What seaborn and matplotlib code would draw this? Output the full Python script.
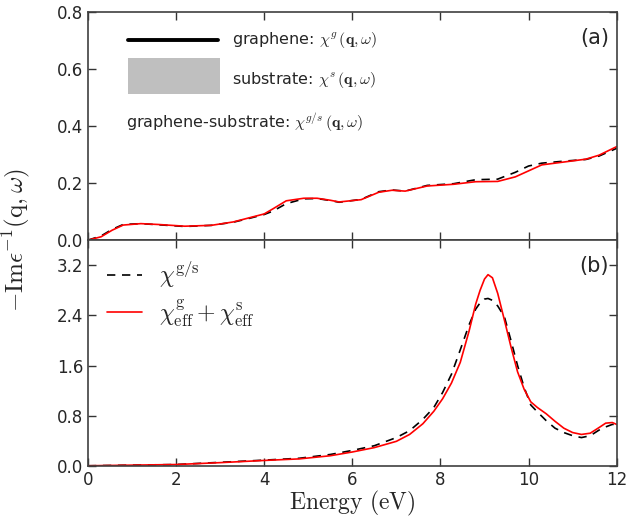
import numpy as np
import pandas as pd
import matplotlib
matplotlib.use('Agg')
import matplotlib.pyplot as plt
import seaborn as sns
from matplotlib.patches import Rectangle
from matplotlib.lines import Line2D

# panel (a): loss function
energy_a = [0, 0.3, 0.55, 0.8, 1.2, 1.6, 2.2, 2.8, 3.3, 3.7, 4.0, 4.2, 4.5, 4.9, 5.2, 5.5,
            5.7, 6.2, 6.6, 6.9, 7.2, 7.7, 8.3, 8.8, 9.3, 9.7, 10.0, 10.3, 10.8, 11.3, 11.6, 12.0]
gs_a = [0, 0.015, 0.038, 0.055, 0.058, 0.054, 0.048, 0.052, 0.063, 0.078, 0.09, 0.102, 0.128,
        0.145, 0.146, 0.139, 0.133, 0.143, 0.17, 0.176, 0.172, 0.192, 0.198, 0.212, 0.214,
        0.238, 0.26, 0.27, 0.277, 0.283, 0.295, 0.322]
eff_a = [0, 0.012, 0.035, 0.053, 0.058, 0.055, 0.049, 0.052, 0.064, 0.08, 0.092, 0.11, 0.138,
         0.147, 0.147, 0.14, 0.134, 0.142, 0.168, 0.175, 0.172, 0.19, 0.196, 0.205, 0.206,
         0.222, 0.243, 0.264, 0.274, 0.284, 0.298, 0.328]

# panel (b)
energy_b = [0, 1, 2, 3, 4, 4.8, 5.5, 6.0, 6.5, 7.0, 7.3, 7.6, 7.85, 8.05, 8.25, 8.45, 8.65,
            8.8, 8.9, 9.0, 9.08, 9.18, 9.3, 9.45, 9.6, 9.75, 9.9, 10.05, 10.2, 10.4, 10.6,
            10.8, 11.0, 11.2, 11.4, 11.6, 11.75, 11.9, 12]
gs_b = [0, 0.01, 0.02, 0.055, 0.09, 0.12, 0.18, 0.245, 0.32, 0.45, 0.56, 0.74, 0.93, 1.17,
        1.46, 1.85, 2.25, 2.5, 2.6, 2.66, 2.67, 2.64, 2.55, 2.38, 2.0, 1.6, 1.25, 0.97, 0.86,
        0.72, 0.6, 0.53, 0.48, 0.45, 0.48, 0.57, 0.62, 0.66, 0.66]
eff_b = [0, 0.01, 0.02, 0.05, 0.085, 0.11, 0.16, 0.22, 0.29, 0.39, 0.5, 0.67, 0.87, 1.07,
         1.32, 1.65, 2.15, 2.58, 2.8, 2.98, 3.05, 3.0, 2.75, 2.33, 1.9, 1.5, 1.22, 1.02, 0.93,
         0.83, 0.71, 0.6, 0.53, 0.5, 0.52, 0.61, 0.68, 0.69, 0.66]

sns.set_style('ticks')
plt.rcParams['font.family'] = ['DejaVu Sans']
plt.rcParams['mathtext.fontset'] = 'cm'

fig = plt.figure(figsize=(6.28, 5.21), dpi=100)
ax1 = fig.add_axes([0.140, 0.539, 0.842, 0.438])
ax2 = fig.add_axes([0.140, 0.106, 0.842, 0.433])

df_a = pd.DataFrame({'E': energy_a, 'gs': gs_a, 'eff': eff_a})
df_b = pd.DataFrame({'E': energy_b, 'gs': gs_b, 'eff': eff_b})

for ax, df in [(ax1, df_a), (ax2, df_b)]:
    sns.lineplot(data=df, x='E', y='gs', ax=ax, color='black', lw=1.2,
                 linestyle=(0, (5, 4)), label=r'$\chi^{\rm g/s}$')
    sns.lineplot(data=df, x='E', y='eff', ax=ax, color='red', lw=1.2,
                 label=r'$\chi^{\rm g}_{\rm eff}+\chi^{\rm s}_{\rm eff}$')
    ax.set_xlim(0, 12)
    ax.set_xlabel('')
    ax.set_ylabel('')
    ax.tick_params(direction='in', top=True, right=True, length=6, width=1,
                   labelsize=12, color='0.2')
    for s in ax.spines.values():
        s.set_color('0.25')
        s.set_linewidth(1.2)

ax1.set_ylim(0, 0.8)
ax1.set_yticks([0.0, 0.2, 0.4, 0.6, 0.8])
ax1.set_xticklabels([])
ax1.get_legend().remove()

ax2.set_ylim(0, 3.6)
ax2.set_yticks([0.0, 0.8, 1.6, 2.4, 3.2])
ax2.set_xticks([0, 2, 4, 6, 8, 10, 12])
ax2.legend(loc='upper left', frameon=False, fontsize=17, handlelength=1.5,
           handletextpad=0.7, borderaxespad=0.4, labelspacing=0.3)

ax1.text(0.985, 0.93, '(a)', transform=ax1.transAxes, ha='right', va='top', fontsize=15)
ax2.text(0.985, 0.93, '(b)', transform=ax2.transAxes, ha='right', va='top', fontsize=15)

# custom key in panel (a)
ax1.add_line(Line2D([0.076, 0.246], [0.877, 0.877], transform=ax1.transAxes,
                    color='black', lw=2.8))
ax1.add_patch(Rectangle((0.076, 0.64), 0.174, 0.158, transform=ax1.transAxes,
                        facecolor='#bfbfbf', edgecolor='none'))
ax1.text(0.272, 0.877, r'graphene: $\chi^{g}\,(\mathbf{q},\omega)$', transform=ax1.transAxes,
         va='center', fontsize=11.5)
ax1.text(0.272, 0.70, r'substrate: $\chi^{s}\,(\mathbf{q},\omega)$', transform=ax1.transAxes,
         va='center', fontsize=11.5)
ax1.text(0.072, 0.517, r'graphene-substrate: $\chi^{g/s}\,(\mathbf{q},\omega)$',
         transform=ax1.transAxes, va='center', fontsize=11.5)

ax2.set_xlabel(r'$\mathrm{Energy\ (eV)}$', fontsize=17, labelpad=0)
fig.text(0.025, 0.54, r'$-\mathrm{Im}\epsilon^{-1}(\mathrm{q},\omega)$', rotation=90,
         ha='center', va='center', fontsize=18)

fig.savefig('out.png', dpi=100)
